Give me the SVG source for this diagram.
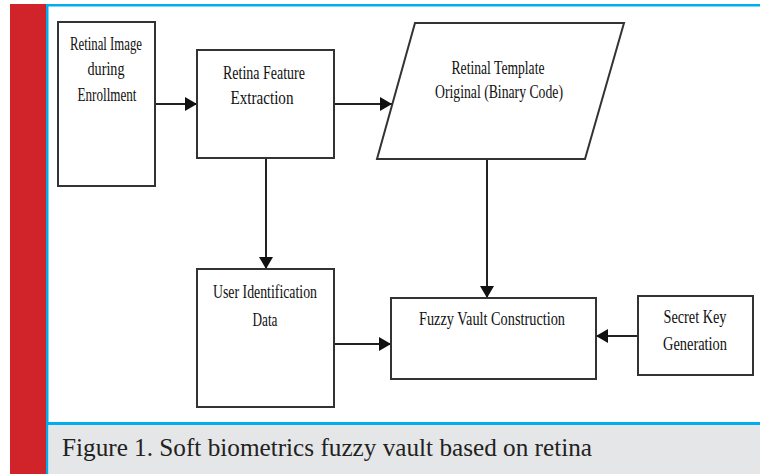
<svg xmlns="http://www.w3.org/2000/svg" width="760" height="474" viewBox="0 0 760 474">
<style>
.box{fill:#fff;stroke:#333;stroke-width:2}
.lbl{font-family:"Liberation Serif","Times New Roman",serif;font-size:18px;fill:#111;text-anchor:middle}
.conn{stroke:#222;stroke-width:2;fill:none}
.cap{font-family:"Liberation Serif","Times New Roman",serif;font-size:25px;fill:#222}
</style>
<defs>
<marker id="ah" viewBox="0 0 12 14" refX="12" refY="7" markerWidth="12" markerHeight="14" markerUnits="userSpaceOnUse" orient="auto">
<path d="M0,0 L12,7 L0,14 Z" fill="#111"/>
</marker>
</defs>
<rect x="0" y="0" width="760" height="474" fill="#fff"/>
<rect x="10" y="4" width="36" height="470" fill="#d0232a"/>
<rect x="46" y="4" width="714" height="2.5" fill="#00aeef"/>
<rect x="46" y="4" width="2.5" height="470" fill="#00aeef"/>
<rect x="48" y="422" width="712" height="3" fill="#00aeef"/>
<rect x="48.5" y="425" width="711.5" height="49" fill="#e5e6e8"/>
<text class="cap" x="62" y="456" textLength="530" lengthAdjust="spacingAndGlyphs">Figure 1. Soft biometrics fuzzy vault based on retina</text>

<g id="connectors">
<line class="conn" x1="155" y1="104" x2="197" y2="104" marker-end="url(#ah)"/>
<line class="conn" x1="334" y1="104" x2="392" y2="104" marker-end="url(#ah)"/>
<line class="conn" x1="266" y1="158" x2="266" y2="269" marker-end="url(#ah)"/>
<line class="conn" x1="487" y1="159" x2="487" y2="298" marker-end="url(#ah)"/>
<line class="conn" x1="334" y1="344" x2="391" y2="344" marker-end="url(#ah)"/>
<line class="conn" x1="638" y1="336" x2="596" y2="336" marker-end="url(#ah)"/>
</g>

<g id="node-retinal-image">
<rect class="box" x="58" y="22" width="97" height="164"/>
<text class="lbl" x="106" y="50" textLength="72" lengthAdjust="spacingAndGlyphs">Retinal Image</text>
<text class="lbl" x="106" y="75" textLength="37" lengthAdjust="spacingAndGlyphs">during</text>
<text class="lbl" x="107" y="101" textLength="59" lengthAdjust="spacingAndGlyphs">Enrollment</text>
</g>

<g id="node-feature-extraction">
<rect class="box" x="197" y="50" width="137" height="108"/>
<text class="lbl" x="264" y="79" textLength="82" lengthAdjust="spacingAndGlyphs">Retina Feature</text>
<text class="lbl" x="262" y="104" textLength="63" lengthAdjust="spacingAndGlyphs">Extraction</text>
</g>

<g id="node-template">
<polygon class="box" points="415,23 624,23 585,159 377,159"/>
<text class="lbl" x="498" y="74" textLength="93" lengthAdjust="spacingAndGlyphs">Retinal Template</text>
<text class="lbl" x="499" y="98" textLength="128" lengthAdjust="spacingAndGlyphs">Original (Binary Code)</text>
</g>

<g id="node-user-id">
<rect class="box" x="197" y="269" width="137" height="138"/>
<text class="lbl" x="265" y="298" textLength="104" lengthAdjust="spacingAndGlyphs">User Identification</text>
<text class="lbl" x="265" y="326" textLength="25" lengthAdjust="spacingAndGlyphs">Data</text>
</g>

<g id="node-fuzzy-vault">
<rect class="box" x="391" y="298" width="205" height="81"/>
<text class="lbl" x="492" y="325" textLength="146" lengthAdjust="spacingAndGlyphs">Fuzzy Vault Construction</text>
</g>

<g id="node-secret-key">
<rect class="box" x="638" y="296" width="115" height="79"/>
<text class="lbl" x="695" y="323" textLength="63" lengthAdjust="spacingAndGlyphs">Secret Key</text>
<text class="lbl" x="695" y="350" textLength="64" lengthAdjust="spacingAndGlyphs">Generation</text>
</g>
</svg>
